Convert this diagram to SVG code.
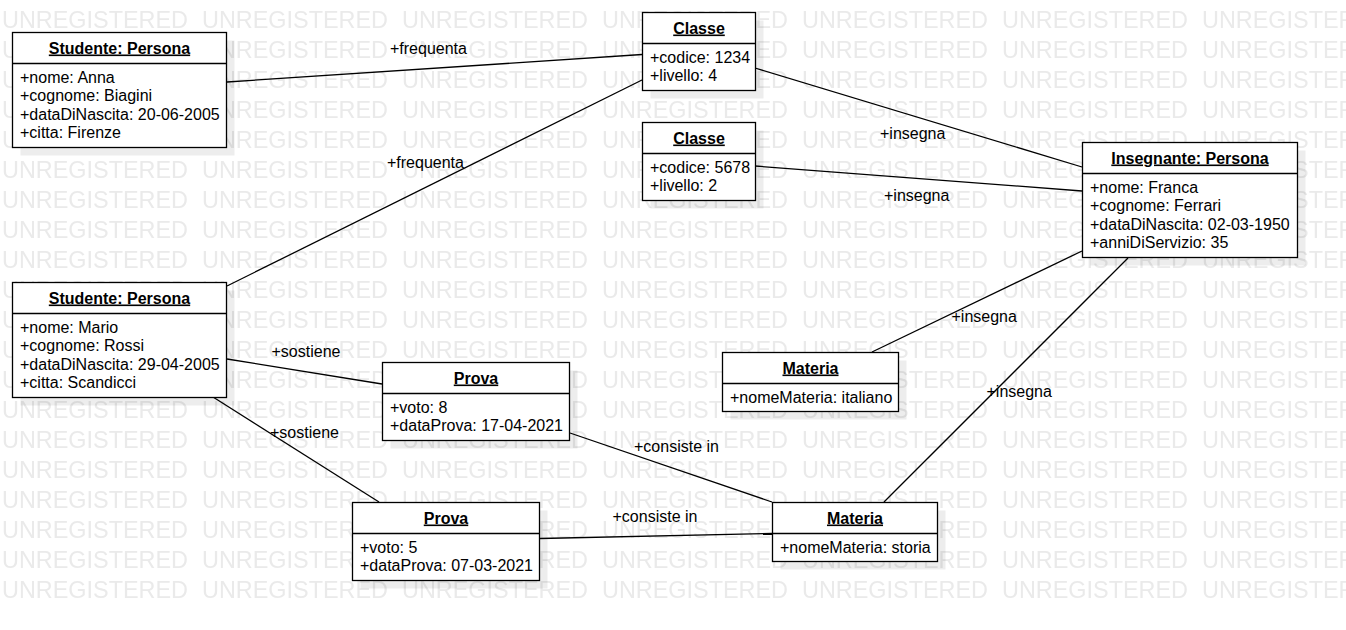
<svg xmlns="http://www.w3.org/2000/svg" width="1346" height="630" viewBox="0 0 1346 630">
<defs>
<pattern id="wm" x="0" y="0" width="200" height="30" patternUnits="userSpaceOnUse">
<text x="2" y="28" class="wmt" textLength="186" lengthAdjust="spacingAndGlyphs">UNREGISTERED</text>
</pattern>
<style>
.wmt{font-family:"Liberation Sans",Arial,sans-serif;font-size:23.4px;fill:#eaeaea}
.box{fill:#fff;stroke:#000;stroke-width:1.3}
.sh{fill:#000;fill-opacity:.07}
.div{stroke:#000;stroke-width:1.3}
.t{font-family:"Liberation Sans",Arial,sans-serif;font-size:16px;font-weight:bold;fill:#000;text-anchor:middle;text-decoration:underline}
.a{font-family:"Liberation Sans",Arial,sans-serif;font-size:16px;fill:#000}
.lbl{font-family:"Liberation Sans",Arial,sans-serif;font-size:16px;fill:#000}
.c{stroke:#000;stroke-width:1.3;fill:none}
</style>
</defs>
<rect width="1346" height="630" fill="#fff"/>
<rect x="0" y="0" width="1346" height="602" fill="url(#wm)"/>

<g id="connectors">
<line class="c" x1="227" y1="82" x2="642" y2="54.5"/>
<line class="c" x1="227" y1="286" x2="642" y2="80"/>
<line class="c" x1="755" y1="68" x2="1082" y2="167"/>
<line class="c" x1="755" y1="166" x2="1082" y2="191"/>
<line class="c" x1="1082" y1="251" x2="872" y2="352"/>
<line class="c" x1="1128" y1="258" x2="884" y2="502"/>
<line class="c" x1="227" y1="359" x2="382" y2="384"/>
<line class="c" x1="213" y1="397" x2="379" y2="502"/>
<line class="c" x1="570" y1="433" x2="772" y2="502"/>
<line class="c" x1="540" y1="538.5" x2="772" y2="533.5"/>
<text class="lbl" x="390" y="54">+frequenta</text>
<text class="lbl" x="387" y="168">+frequenta</text>
<text class="lbl" x="880" y="139">+insegna</text>
<text class="lbl" x="884" y="200.5">+insegna</text>
<text class="lbl" x="951.5" y="322">+insegna</text>
<text class="lbl" x="986.5" y="397">+insegna</text>
<text class="lbl" x="271.5" y="356.5">+sostiene</text>
<text class="lbl" x="270" y="437.5">+sostiene</text>
<text class="lbl" x="634" y="452">+consiste in</text>
<text class="lbl" x="612.5" y="521.5">+consiste in</text>
</g>

<g id="studente-anna">
<rect class="sh" x="20.5" y="40.5" width="214" height="115"/>
<rect class="box" x="12.5" y="32.5" width="214" height="115"/>
<line class="div" x1="12.5" y1="63.5" x2="226.5" y2="63.5"/>
<text class="t" x="119.5" y="53.5">Studente: Persona</text>
<text class="a" x="20" y="82.5">+nome: Anna</text>
<text class="a" x="20" y="101">+cognome: Biagini</text>
<text class="a" x="20" y="119.5">+dataDiNascita: 20-06-2005</text>
<text class="a" x="20" y="138">+citta: Firenze</text>
</g>

<g id="classe-1234">
<rect class="sh" x="650.5" y="20.5" width="113" height="78"/>
<rect class="box" x="642.5" y="12.5" width="113" height="78"/>
<line class="div" x1="642.5" y1="43.5" x2="755.5" y2="43.5"/>
<text class="t" x="699" y="33.5">Classe</text>
<text class="a" x="650" y="62.5">+codice: 1234</text>
<text class="a" x="650" y="81">+livello: 4</text>
</g>

<g id="classe-5678">
<rect class="sh" x="650.5" y="130.5" width="113" height="78"/>
<rect class="box" x="642.5" y="122.5" width="113" height="78"/>
<line class="div" x1="642.5" y1="153.5" x2="755.5" y2="153.5"/>
<text class="t" x="699" y="143.5">Classe</text>
<text class="a" x="650" y="172.5">+codice: 5678</text>
<text class="a" x="650" y="191">+livello: 2</text>
</g>

<g id="insegnante">
<rect class="sh" x="1090.5" y="150.5" width="215" height="115"/>
<rect class="box" x="1082.5" y="142.5" width="215" height="115"/>
<line class="div" x1="1082.5" y1="173.5" x2="1297.5" y2="173.5"/>
<text class="t" x="1190" y="163.5">Insegnante: Persona</text>
<text class="a" x="1090" y="192.5">+nome: Franca</text>
<text class="a" x="1090" y="211">+cognome: Ferrari</text>
<text class="a" x="1090" y="229.5">+dataDiNascita: 02-03-1950</text>
<text class="a" x="1090" y="248">+anniDiServizio: 35</text>
</g>

<g id="studente-mario">
<rect class="sh" x="20.5" y="290.5" width="214" height="115"/>
<rect class="box" x="12.5" y="282.5" width="214" height="115"/>
<line class="div" x1="12.5" y1="313.5" x2="226.5" y2="313.5"/>
<text class="t" x="119.5" y="303.5">Studente: Persona</text>
<text class="a" x="20" y="332.5">+nome: Mario</text>
<text class="a" x="20" y="351">+cognome: Rossi</text>
<text class="a" x="20" y="369.5">+dataDiNascita: 29-04-2005</text>
<text class="a" x="20" y="388">+citta: Scandicci</text>
</g>

<g id="prova-8">
<rect class="sh" x="390.5" y="370.5" width="187" height="78"/>
<rect class="box" x="382.5" y="362.5" width="187" height="78"/>
<line class="div" x1="382.5" y1="393.5" x2="569.5" y2="393.5"/>
<text class="t" x="476" y="383.5">Prova</text>
<text class="a" x="390" y="412.5">+voto: 8</text>
<text class="a" x="390" y="431">+dataProva: 17-04-2021</text>
</g>

<g id="prova-5">
<rect class="sh" x="360.5" y="510.5" width="187" height="78"/>
<rect class="box" x="352.5" y="502.5" width="187" height="78"/>
<line class="div" x1="352.5" y1="533.5" x2="539.5" y2="533.5"/>
<text class="t" x="446" y="523.5">Prova</text>
<text class="a" x="360" y="552.5">+voto: 5</text>
<text class="a" x="360" y="571">+dataProva: 07-03-2021</text>
</g>

<g id="materia-italiano">
<rect class="sh" x="730.5" y="360.5" width="176" height="59"/>
<rect class="box" x="722.5" y="352.5" width="176" height="59"/>
<line class="div" x1="722.5" y1="383.5" x2="898.5" y2="383.5"/>
<text class="t" x="810.5" y="373.5">Materia</text>
<text class="a" x="730" y="402.5">+nomeMateria: italiano</text>
</g>

<g id="materia-storia">
<rect class="sh" x="780.5" y="510.5" width="165" height="59"/>
<rect class="box" x="772.5" y="502.5" width="165" height="59"/>
<line class="div" x1="772.5" y1="533.5" x2="937.5" y2="533.5"/>
<text class="t" x="855" y="523.5">Materia</text>
<text class="a" x="780" y="552.5">+nomeMateria: storia</text>
</g>
</svg>
